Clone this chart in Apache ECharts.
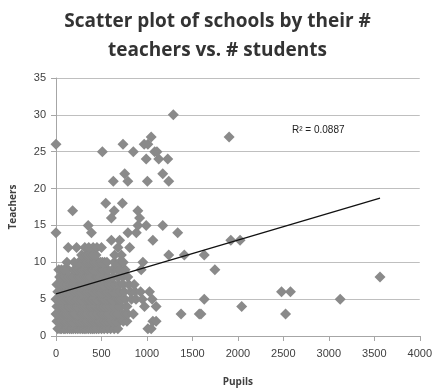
<!DOCTYPE html>
<html>
<head>
<meta charset="utf-8">
<script src="https://cdn.jsdelivr.net/npm/echarts@6/dist/echarts.min.js"></script>
<style>html,body{margin:0;padding:0;background:#fff}#c{width:435px;height:392px}</style>
</head>
<body>
<div id="c"></div>
<script>
const titleText = "Scatter plot of schools by their #\nteachers vs. # students";
const xAxisName = "Pupils";
const yAxisName = "Teachers";
const r2Label = "R\u00B2 = 0.0887";
// Pupils values grouped by teacher count
const rowTeachers = [1,2,3,4,5,6,7,8,9,10,11,12,13,14,15,16,17,18,21,22,24,25,26,27,30];
const rowPupils = [
  [20,45,60,85,100,125,150,170,190,215,240,265,290,310,330,355,380,400,420,445,470,500,530,565,600,640,680,1010,1047],
  [10,30,50,70,90,115,140,160,180,205,230,250,270,295,320,340,360,385,410,430,450,475,500,530,560,590,620,660,700,740,780,1065,1101],
  [0,20,40,60,80,100,120,145,170,190,210,235,260,280,300,325,350,370,390,415,440,460,480,505,530,555,580,610,640,680,720,755,790,850,1375,1575,1594,2524],
  [10,35,60,80,100,125,150,175,200,220,240,265,290,310,330,355,380,400,420,445,470,490,510,535,560,585,610,635,660,690,720,780,973,1101,2042],
  [0,15,30,55,80,100,120,145,170,190,210,230,250,275,300,320,340,365,390,410,430,455,480,500,520,545,570,595,620,645,670,695,720,760,830,880,950,1058,1630,3125],
  [20,45,70,90,110,135,160,180,200,225,250,270,290,315,340,360,380,405,430,450,470,490,510,535,560,580,600,625,650,675,700,750,820,870,930,1028,2480,2578],
  [10,35,60,95,130,160,190,210,230,255,280,300,320,345,370,390,410,435,460,480,500,520,540,565,590,615,640,690,740,800,860],
  [40,70,100,135,170,195,220,245,270,290,310,335,360,380,400,425,450,470,490,510,530,555,580,630,680,730,790,3563],
  [30,60,90,135,200,230,260,280,300,325,350,370,390,410,430,455,480,500,520,545,570,620,670,710,760,937,1747],
  [120,200,250,300,320,340,360,380,400,420,445,470,490,510,535,560,640,700,740,955],
  [281,335,360,390,415,440,645,719,1240,1411,1630],
  [135,226,317,360,408,450,500,682,810],
  [609,700,1065,1922,2024],
  [0,390,791,883,1338],
  [354,901,992,1174],
  [609,919],
  [183,640,900],
  [547,730],
  [630,790,1005,1240],
  [755,1174],
  [992,1130,1229],
  [510,850,1085,1110],
  [0,737,970,1010],
  [1047,1904],
  [1290]
];
// Linear trend line
const trendIntercept = 5.7;
const trendSlope = 0.00365;
const trendRange = [0, 3563];
const xTicks = [0,500,1000,1500,2000,2500,3000,3500,4000];
const yTicks = [0,5,10,15,20,25,30,35];

const points = [];
rowTeachers.forEach((t, i) => rowPupils[i].forEach(p => points.push([p, t])));
const trend = trendRange.map(x => [x, trendIntercept + trendSlope * x]);

const chart = echarts.init(document.getElementById('c'), null, {renderer: 'canvas'});
const labelColor = '#404040';
chart.setOption({
  animation: false,
  title: {
    text: titleText, left: 'center', top: 2,
    textStyle: {fontFamily: 'Open Sans', fontWeight: 'bold', fontSize: 19, lineHeight: 29, color: '#333'}
  },
  grid: {left: 56, right: 13, top: 78, bottom: 55},
  xAxis: {
    type: 'value', min: xTicks[0], max: xTicks[xTicks.length-1], interval: 500,
    name: xAxisName, nameLocation: 'middle', nameGap: 41,
    nameTextStyle: {fontFamily: 'Open Sans', fontWeight: 'bold', fontSize: 10, color: labelColor},
    axisLine: {show: true, lineStyle: {color: '#a6a6a6'}},
    axisTick: {show: true, length: 5, lineStyle: {color: '#a6a6a6'}},
    axisLabel: {fontFamily: 'Liberation Sans', fontSize: 11, color: labelColor, margin: 12,
      formatter: v => String(v)},
    splitLine: {show: false}
  },
  yAxis: {
    type: 'value', min: yTicks[0], max: yTicks[yTicks.length-1], interval: 5,
    name: yAxisName, nameLocation: 'middle', nameGap: 38,
    nameTextStyle: {fontFamily: 'Open Sans', fontWeight: 'bold', fontSize: 10, color: labelColor},
    axisLine: {show: true, lineStyle: {color: '#a6a6a6'}},
    axisTick: {show: true, length: 5, lineStyle: {color: '#a6a6a6'}},
    axisLabel: {fontFamily: 'Liberation Sans', fontSize: 11, color: labelColor, margin: 10},
    splitLine: {show: true, lineStyle: {color: '#bfbfbf', width: 1}}
  },
  series: [
    {
      type: 'scatter', data: points, symbol: 'diamond', symbolSize: [11, 11],
      itemStyle: {color: '#8a8a8a', opacity: 1}
    },
    {
      type: 'line', data: trend, symbol: 'none',
      lineStyle: {color: '#111', width: 1.3}
    }
  ],
  graphic: [{
    type: 'text', left: 292, top: 125,
    style: {text: r2Label, font: '10px Liberation Sans', fill: '#222'}
  }]
});
</script>
</body>
</html>
